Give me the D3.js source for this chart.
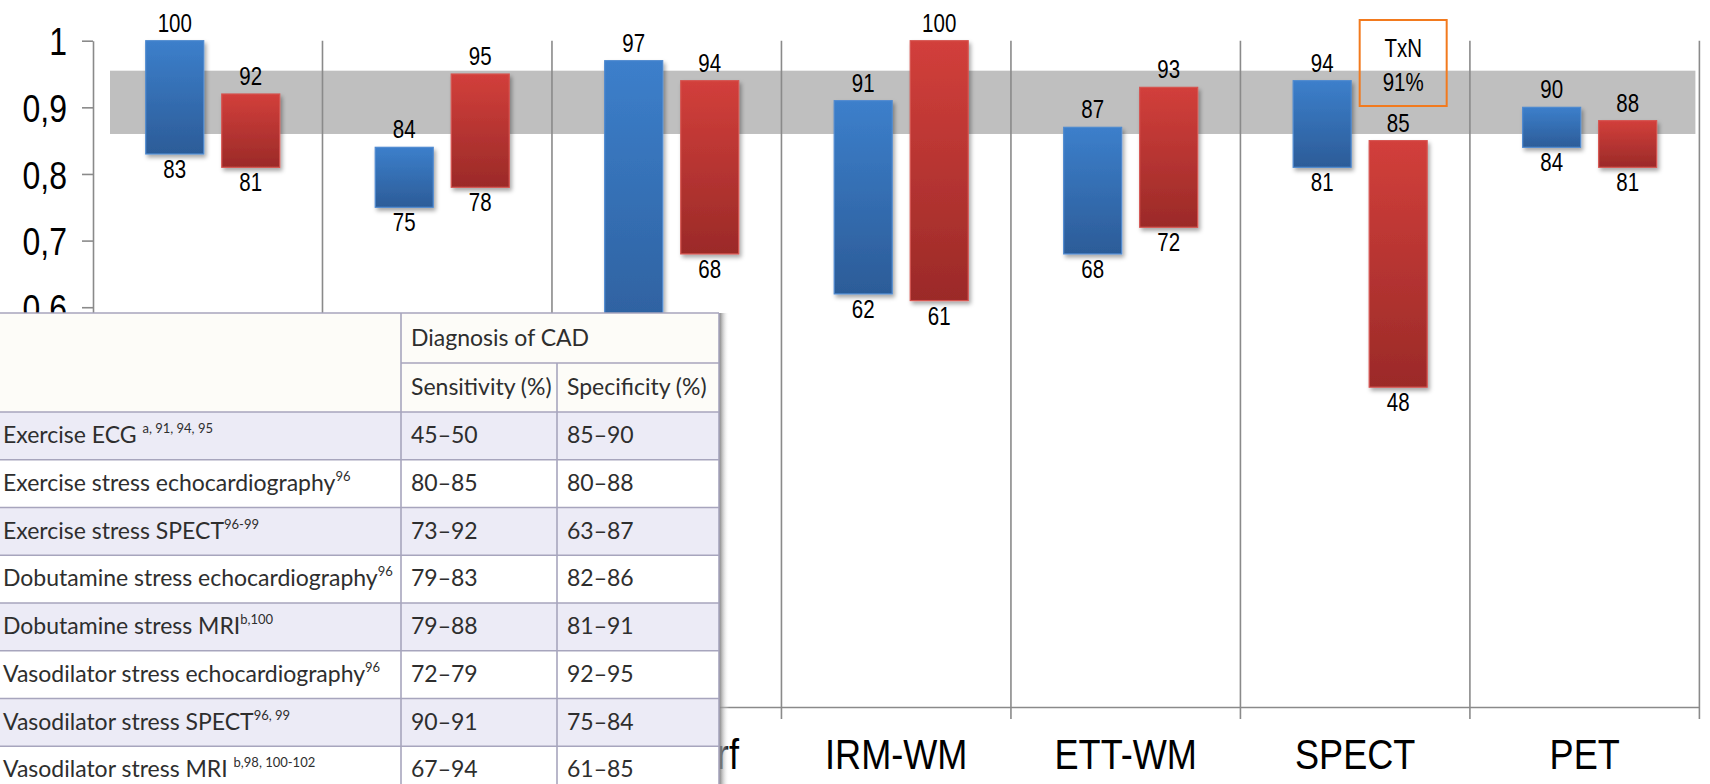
<!DOCTYPE html>
<html>
<head>
<meta charset="utf-8">
<script src="https://cdn.jsdelivr.net/npm/d3@7"></script>
<style>
  body { margin: 0; background: #fff; overflow: hidden; }
  svg { display: block; }
</style>
</head>
<body>
<svg id="chart" width="1710" height="784"></svg>
<script>
// ---- chart data ----
const categories = ["Coro-CT", "ETT-Perf", "IRM-Perf", "IRM-WM", "ETT-WM", "SPECT", "PET"];
const series = ["Sensitivity", "Specificity"];
const sensLow  = [0.83, 0.75, 0.50, 0.62, 0.68, 0.81, 0.84];
const sensHigh = [1.00, 0.84, 0.97, 0.91, 0.87, 0.94, 0.90];
const specLow  = [0.81, 0.78, 0.68, 0.61, 0.72, 0.48, 0.81];
const specHigh = [0.92, 0.95, 0.94, 1.00, 0.93, 0.85, 0.88];
const yTickValues = [0, 0.1, 0.2, 0.3, 0.4, 0.5, 0.6, 0.7, 0.8, 0.9, 1];
const referenceBand = [0.86, 0.955];
const noteLines = ["TxN", "91%"];
const noteCategory = "SPECT";

// ---- table data (guideline summary) ----
const tableHeader = "Diagnosis of CAD";
const tableColumns = ["Sensitivity (%)", "Specificity (%)"];
const tableTests = [
  "Exercise ECG ", "Exercise stress echocardiography", "Exercise stress SPECT",
  "Dobutamine stress echocardiography", "Dobutamine stress MRI",
  "Vasodilator stress echocardiography", "Vasodilator stress SPECT", "Vasodilator stress MRI "
];
const tableRefs = ["a, 91, 94, 95", "96", "96-99", "96", "b,100", "96", "96, 99", "b,98, 100-102"];
const tableSens = ["45–50", "80–85", "73–92", "79–83", "79–88", "72–79", "90–91", "67–94"];
const tableSpec = ["85–90", "80–88", "63–87", "82–86", "81–91", "92–95", "75–84", "61–85"];

// ---- build rows ----
const rows = categories.map((c, i) => ({
  category: c,
  bars: [
    { key: series[0], lo: sensLow[i], hi: sensHigh[i] },
    { key: series[1], lo: specLow[i], hi: specHigh[i] }
  ]
}));

const svg = d3.select("#chart");
const FONT = "'Liberation Sans', Arial, sans-serif";
const SQUEEZE = 0.82;           // condensed look of the labels

const x = d3.scaleBand().domain(categories).range([93, 1699.4]).paddingInner(0).paddingOuter(0);
const xs = d3.scaleBand().domain(series).range([0, x.bandwidth()]).paddingInner(0.237).paddingOuter(0.628);
const pairShift = 5;
const y = d3.scaleLinear().domain([0, 1]).range([707, 40.7]);

// ---- gradients & shadow ----
const defs = svg.append("defs");
const grad = (id, top, bottom) => {
  const g = defs.append("linearGradient").attr("id", id).attr("x1", 0).attr("x2", 0).attr("y1", 0).attr("y2", 1);
  g.append("stop").attr("offset", "0%").attr("stop-color", top);
  g.append("stop").attr("offset", "100%").attr("stop-color", bottom);
};
grad("gSens", "#3c7fcb", "#2c5c98");
grad("gSpec", "#d23f3b", "#9b2a28");
const sh = defs.append("filter").attr("id", "shadow").attr("x", "-20%").attr("y", "-20%").attr("width", "150%").attr("height", "150%");
sh.append("feDropShadow").attr("dx", 2).attr("dy", 3).attr("stdDeviation", 2.2).attr("flood-color", "#000").attr("flood-opacity", 0.35);
const tsh = defs.append("linearGradient").attr("id", "tableShadow").attr("x1", 0).attr("x2", 1);
tsh.append("stop").attr("offset", "0%").attr("stop-color", "#777");
tsh.append("stop").attr("offset", "100%").attr("stop-color", "#fff").attr("stop-opacity", 0);

const colour = { Sensitivity: "url(#gSens)", Specificity: "url(#gSpec)" };
const edge = { Sensitivity: "#4f8ad0", Specificity: "#d65450" };

const chart = svg.append("g").attr("class", "chart");

// ---- reference band ----
chart.append("rect")
  .attr("x", x.range()[0] + 17).attr("width", x.range()[1] - x.range()[0] - 21)
  .attr("y", y(referenceBand[1])).attr("height", y(referenceBand[0]) - y(referenceBand[1]))
  .attr("fill", "#bfbfbf");

// ---- category separators ----
const bounds = categories.slice(1).map(c => x(c)).concat([x.range()[1]]);
chart.append("g").selectAll("line").data(bounds).join("line")
  .attr("x1", d => d).attr("x2", d => d)
  .attr("y1", y(1)).attr("y2", y(0) + 12)
  .attr("stroke", "#8a8a8a").attr("stroke-width", 1.6);

// ---- x axis ----
const xAxis = chart.append("g").attr("transform", `translate(0,${y(0)})`)
  .call(d3.axisBottom(x).tickSize(0).tickPadding(0));
xAxis.select(".domain").attr("stroke", "#8a8a8a").attr("stroke-width", 1.6);
xAxis.selectAll(".tick text")
  .attr("font-family", FONT).attr("font-size", 42).attr("fill", "#000")
  .attr("y", 0).attr("dy", 0)
  .attr("transform", `translate(0,62) scale(0.86,1)`);

// ---- y axis ----
const fmt = d3.formatLocale({ decimal: ",", thousands: ".", grouping: [3], currency: ["", ""] }).format("~g");
const yAxis = chart.append("g").attr("transform", `translate(93,0)`)
  .call(d3.axisLeft(y).tickValues(yTickValues).tickFormat(fmt).tickSize(11).tickSizeOuter(0));
yAxis.select(".domain").attr("stroke", "#8a8a8a").attr("stroke-width", 1.6);
yAxis.selectAll(".tick line").attr("stroke", "#8a8a8a").attr("stroke-width", 1.6);
yAxis.selectAll(".tick text")
  .attr("font-family", FONT).attr("font-size", 39).attr("fill", "#000")
  .attr("x", -26 / SQUEEZE).attr("dy", "0.36em")
  .attr("transform", `scale(${SQUEEZE},1)`);

// ---- floating bars ----
const groups = chart.append("g").selectAll("g").data(rows).join("g")
  .attr("transform", d => `translate(${x(d.category) + pairShift},0)`);

groups.selectAll("rect").data(d => d.bars).join("rect")
  .attr("x", d => xs(d.key)).attr("width", xs.bandwidth())
  .attr("y", d => y(d.hi)).attr("height", d => y(d.lo) - y(d.hi))
  .attr("fill", d => colour[d.key])
  .attr("stroke", d => edge[d.key]).attr("stroke-width", 1.2)
  .attr("filter", "url(#shadow)");

const label = (sel, text, cx, yy) => sel.append("text")
  .attr("transform", `translate(${cx},${yy}) scale(${SQUEEZE},1)`)
  .attr("text-anchor", "middle").attr("font-family", FONT).attr("font-size", 25).attr("fill", "#000")
  .text(text);

groups.each(function (d) {
  const g = d3.select(this);
  d.bars.forEach(b => {
    const cx = xs(b.key) + xs.bandwidth() / 2;
    label(g, Math.round(b.hi * 100), cx, y(b.hi) - 9);
    label(g, Math.round(b.lo * 100), cx, y(b.lo) + 24);
  });
});

// ---- note box over the SPECT specificity bar ----
const noteX = x(noteCategory) + pairShift + xs(series[1]) + xs.bandwidth() / 2 + 5;
const note = chart.append("g");
note.append("rect").attr("x", noteX - 43.5).attr("y", 20).attr("width", 87).attr("height", 86)
  .attr("fill", "none").attr("stroke", "#f27a1e").attr("stroke-width", 2);
noteLines.forEach((t, i) => label(note, t, noteX, 57 + i * 34));

// ---- guideline table overlay ----
const T = { x1: 401, x2: 557, x3: 719, top: 313, mid: 363, head: 412, rowH: 47.75 };

// chart labels that end up entirely behind the table are not drawn
chart.selectAll("text").each(function () {
  const b = this.getBoundingClientRect();
  if (b.right <= T.x3 && b.top >= T.top) d3.select(this).remove();
});

const tbl = svg.append("g").attr("font-family", "Lato, 'Open Sans', sans-serif").attr("fill", "#2e2e2e");
tbl.append("rect").attr("x", T.x3).attr("y", T.top).attr("width", 10).attr("height", 784 - T.top).attr("fill", "url(#tableShadow)");
tbl.append("rect").attr("x", 0).attr("y", T.top).attr("width", T.x3).attr("height", 784 - T.top).attr("fill", "#fdfcf8");
tbl.selectAll("rect.row").data(tableTests).join("rect").attr("class", "row")
  .attr("x", 0).attr("width", T.x3)
  .attr("y", (d, i) => T.head + i * T.rowH).attr("height", T.rowH)
  .attr("fill", (d, i) => i % 2 === 0 ? "#ecebf6" : "#ffffff");

const lineC = "#a7a5bd";
const hl = (x1, x2, yy) => tbl.append("line").attr("x1", x1).attr("x2", x2).attr("y1", yy).attr("y2", yy).attr("stroke", lineC).attr("stroke-width", 1.6);
const vl = (xx, y1, y2) => tbl.append("line").attr("x1", xx).attr("x2", xx).attr("y1", y1).attr("y2", y2).attr("stroke", lineC).attr("stroke-width", 1.6);
hl(0, T.x3, T.top);
hl(T.x1, T.x3, T.mid);
tableTests.forEach((d, i) => hl(0, T.x3, T.head + i * T.rowH));
vl(T.x1, T.top, 784);
vl(T.x2, T.mid, 784);
vl(T.x3, T.top, 784);

const TF = 23;
tbl.append("text").attr("x", T.x1 + 10).attr("y", T.top + 33).attr("font-size", TF).text(tableHeader);
tableColumns.forEach((c, i) => tbl.append("text").attr("x", (i ? T.x2 : T.x1) + 10).attr("y", T.mid + 32).attr("font-size", TF).text(c));
tableTests.forEach((d, i) => {
  const yy = T.head + i * T.rowH + 31;
  const t = tbl.append("text").attr("x", 3).attr("y", yy).attr("font-size", TF);
  t.append("tspan").text(d);
  t.append("tspan").attr("font-size", 13).attr("dy", -10).text(tableRefs[i]);
  tbl.append("text").attr("x", T.x1 + 10).attr("y", yy).attr("font-size", TF).text(tableSens[i]);
  tbl.append("text").attr("x", T.x2 + 10).attr("y", yy).attr("font-size", TF).text(tableSpec[i]);
});
</script>
</body>
</html>
